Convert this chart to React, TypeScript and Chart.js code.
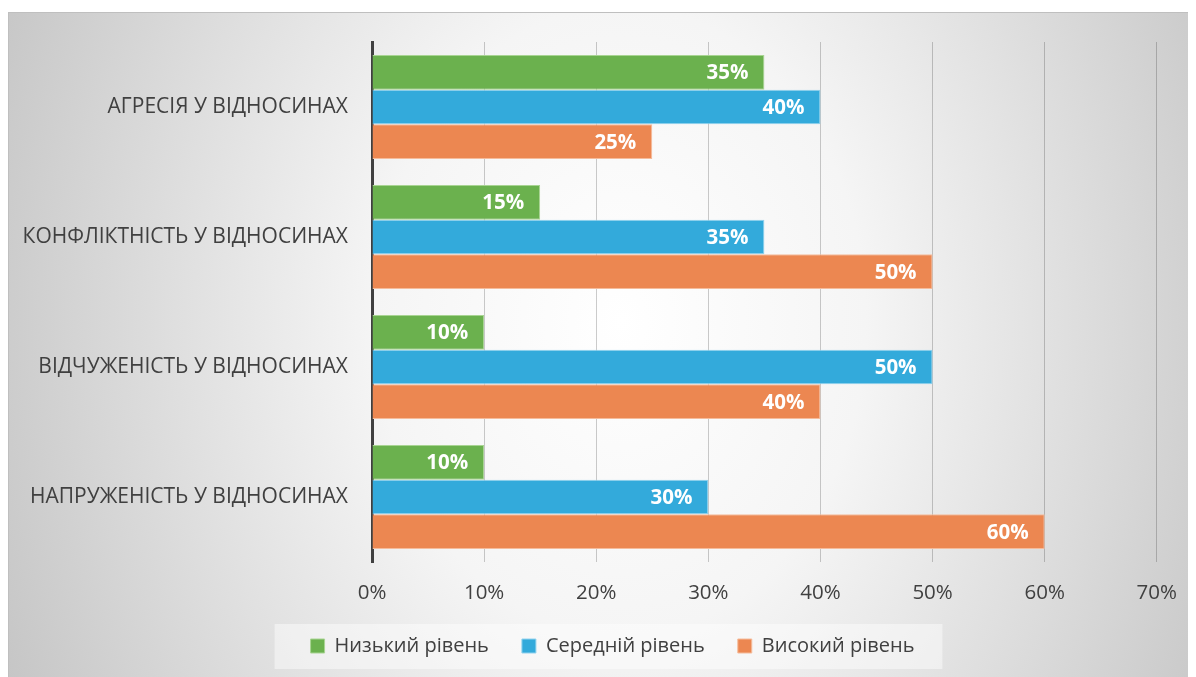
import React, { useEffect, useRef } from "react";
import { Chart, registerables } from "chart.js";

Chart.register(...registerables);

const categories = [
  "АГРЕСІЯ У ВІДНОСИНАХ",
  "КОНФЛІКТНІСТЬ У ВІДНОСИНАХ",
  "ВІДЧУЖЕНІСТЬ У ВІДНОСИНАХ",
  "НАПРУЖЕНІСТЬ У ВІДНОСИНАХ",
];
const seriesNames = ["Низький рівень", "Середній рівень", "Високий рівень"];
const lowValues = [35, 15, 10, 10];
const midValues = [40, 35, 50, 30];
const highValues = [25, 50, 40, 60];
const xTicks = [0, 10, 20, 30, 40, 50, 60, 70];

const FONT = "'Open Sans', 'DejaVu Sans', sans-serif";
const TEXT = "#404040";

const dataLabels = {
  id: "dataLabels",
  afterDraw(chart: any) {
    const ctx = chart.ctx;
    ctx.save();
    ctx.font = `bold 20.5px ${FONT}`;
    ctx.fillStyle = "#ffffff";
    ctx.textAlign = "right";
    ctx.textBaseline = "middle";
    chart.data.datasets.forEach((ds: any, di: number) => {
      const meta = chart.getDatasetMeta(di);
      meta.data.forEach((bar: any, i: number) => {
        ctx.fillText(`${ds.data[i]}%`, bar.x - 16, bar.y + 1);
      });
    });
    ctx.restore();
  },
};

const legendShift = {
  id: "legendShift",
  afterLayout(chart: any) {
    const lg = chart.legend;
    if (!lg) return;
    lg.left += 59;
    lg.width -= 59;
  },
};

const legendBox = {
  id: "legendBox",
  beforeDraw(chart: any) {
    const lg = chart.legend;
    if (!lg || !lg.legendHitBoxes || !lg.legendHitBoxes.length) return;
    const hb = lg.legendHitBoxes;
    const first = hb[0];
    const last = hb[hb.length - 1];
    const cy = first.top + first.height / 2;
    const ctx = chart.ctx;
    ctx.save();
    ctx.fillStyle = "rgba(255,255,255,0.45)";
    ctx.fillRect(first.left - 36, cy - 22, last.left + last.width + 28 - (first.left - 36), 45);
    ctx.restore();
  },
};

export default function App() {
  const ref = useRef<HTMLCanvasElement | null>(null);
  useEffect(() => {
    document.body.style.overflow = "hidden";
    if (!ref.current) return;
    const chart = new Chart(ref.current, {
      type: "bar",
      data: {
        labels: categories,
        datasets: [
          {
            label: seriesNames[0],
            data: lowValues,
            backgroundColor: "#6BB14E",
            borderColor: "#A8D492",
            borderWidth: 1,
          },
          {
            label: seriesNames[1],
            data: midValues,
            backgroundColor: "#33AADB",
            borderColor: "#92D2EE",
            borderWidth: 1,
          },
          {
            label: seriesNames[2],
            data: highValues,
            backgroundColor: "#EC8751",
            borderColor: "#F5BC9C",
            borderWidth: 1,
          },
        ],
      },
      options: {
        indexAxis: "y",
        animation: false,
        responsive: true,
        maintainAspectRatio: false,
        datasets: { bar: { categoryPercentage: 0.8, barPercentage: 1.0 } },
        layout: { padding: { top: 29, right: 39, left: 0, bottom: 11 } },
        scales: {
          x: {
            min: 0,
            max: 70,
            z: 1,
            afterBuildTicks: (scale: any) => {
              scale.ticks = xTicks.map((v) => ({ value: v }));
            },
            afterFit: (scale: any) => {
              scale.height = 41;
            },
            ticks: {
              callback: (v: any) => `${v}%`,
              color: TEXT,
              font: { family: FONT, size: 20.5 },
              padding: 19,
            },
            grid: { color: "rgba(0,0,0,0.2)", lineWidth: 1, drawTicks: false },
            border: { display: false },
          },
          y: {
            z: 1,
            afterFit: (scale: any) => {
              scale.width = 363;
              scale.paddingTop = 0;
              scale.paddingBottom = 0;
            },
            ticks: {
              color: TEXT,
              font: { family: FONT, size: 21 },
              padding: 24,
            },
            grid: { display: false, drawTicks: false },
            border: { display: true, color: "#404040", width: 3 },
          },
        },
        plugins: {
          legend: {
            position: "bottom",
            labels: {
              boxWidth: 14,
              boxHeight: 14,
              padding: 33,
              color: TEXT,
              font: { family: FONT, size: 20 },
            },
          },
          tooltip: { enabled: false },
        },
      },
      plugins: [legendShift, dataLabels, legendBox],
    } as any);
    return () => chart.destroy();
  }, []);

  return (
    <div
      style={{
        marginTop: 4,
        width: 1188,
        height: 665,
        boxSizing: "border-box",
        borderTop: "1px solid #bfbfbf",
        borderLeft: "1px solid #bfbfbf",
        position: "relative",
        background:
          "radial-gradient(ellipse 700px 900px at 612px 308px, #ffffff 0%, #f5f5f5 35%, #c3c3c3 100%)",
      }}
    >
      <canvas ref={ref} />
    </div>
  );
}
